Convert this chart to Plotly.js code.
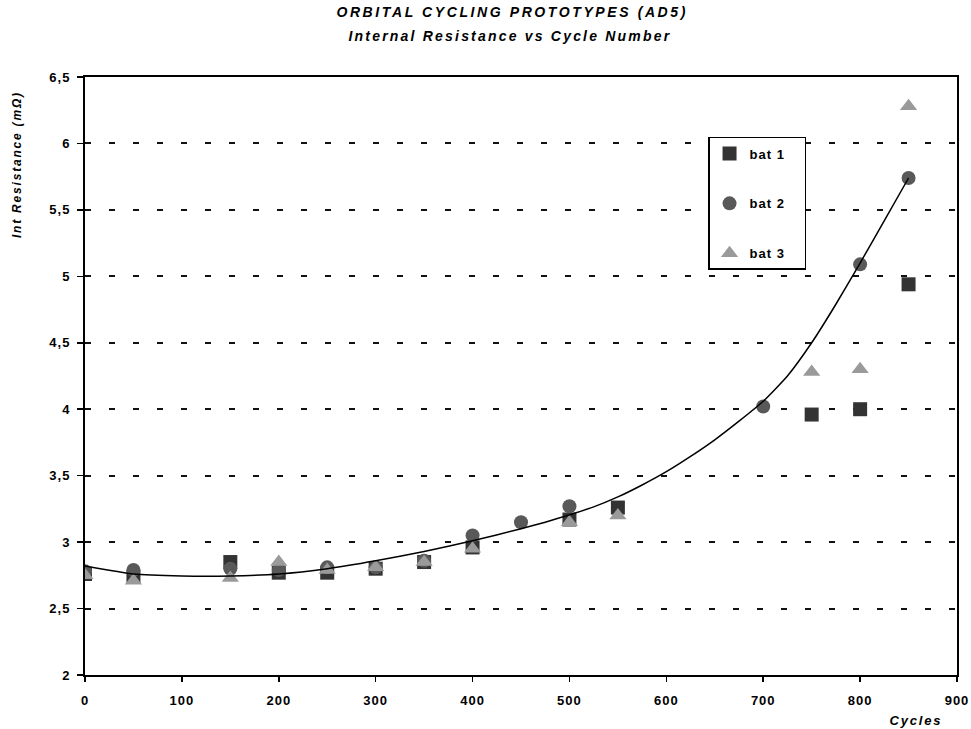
<!DOCTYPE html>
<html>
<head>
<meta charset="utf-8">
<script src="https://cdn.plot.ly/plotly-3.0.1.min.js"></script>
<style>
  html, body { margin: 0; padding: 0; background: #fff; }
  #chart { width: 971px; height: 729px; }
  .xtick text, .ytick text { letter-spacing: 1px; }
  .legendtext { letter-spacing: 1px; }
</style>
</head>
<body>
<div id="chart"></div>
<script>
// Internal resistance (mΩ) of three orbital cycling prototype cells vs cycle number
const bat1Cycles = [0, 50, 150, 200, 250, 300, 350, 400, 500, 550, 750, 800, 850];
const bat1Res    = [2.76, 2.74, 2.85, 2.77, 2.77, 2.80, 2.85, 2.96, 3.17, 3.26, 3.96, 4.00, 4.94];

const bat2Cycles = [0, 50, 150, 200, 250, 300, 350, 400, 450, 500, 700, 800, 850];
const bat2Res    = [2.78, 2.79, 2.80, 2.79, 2.81, 2.81, 2.86, 3.05, 3.15, 3.27, 4.02, 5.09, 5.74];

const bat3Cycles = [0, 50, 150, 200, 250, 300, 350, 400, 500, 550, 750, 800, 850];
const bat3Res    = [2.75, 2.71, 2.73, 2.85, 2.79, 2.81, 2.85, 2.95, 3.15, 3.20, 4.28, 4.30, 6.28];

// Trend curve through the bat 2 readings
const trendCycles = [0, 50, 100, 150, 200, 250, 300, 350, 400, 450, 475, 500, 525, 550, 575, 600, 625, 650, 675, 700, 725, 750, 775, 800, 825, 850];
const trendRes    = [2.82, 2.76, 2.745, 2.745, 2.76, 2.80, 2.86, 2.93, 3.01, 3.10, 3.15, 3.205, 3.265, 3.34, 3.43, 3.53, 3.645, 3.77, 3.91, 4.06, 4.25, 4.50, 4.79, 5.10, 5.42, 5.74];

const xTickVals = [0, 100, 200, 300, 400, 500, 600, 700, 800, 900];
const yTickVals = [2, 2.5, 3, 3.5, 4, 4.5, 5, 5.5, 6, 6.5];
const yTickText = ['2', '2,5', '3', '3,5', '4', '4,5', '5', '5,5', '6', '6,5'];

const FONT = 'Liberation Sans, Arial, sans-serif';
const PAD = '\u00a0\u00a0\u00a0'; // keeps the legend box a little wider than its labels

const traces = [
  {
    x: bat1Cycles, y: bat1Res, name: 'bat 1' + PAD, type: 'scatter', mode: 'markers',
    legendgroup: 'g1',
    marker: { symbol: 'square', size: 14, color: '#333333' }
  },
  {
    x: bat2Cycles, y: bat2Res, name: 'bat 2' + PAD, type: 'scatter', mode: 'markers',
    legendgroup: 'g2',
    marker: { symbol: 'circle', size: 14, color: '#595959' }
  },
  {
    x: bat3Cycles, y: bat3Res, name: 'bat 3' + PAD, type: 'scatter', mode: 'markers',
    legendgroup: 'g3',
    marker: { symbol: 'triangle-up', size: 15, color: '#9a9a9a' }
  },
  {
    x: trendCycles, y: trendRes, type: 'scatter', mode: 'lines', showlegend: false,
    line: { color: '#000', width: 1.5, shape: 'spline', smoothing: 0.5 },
    hoverinfo: 'skip'
  }
];

const axisCommon = {
  showline: true, linecolor: '#000', linewidth: 2, mirror: true,
  ticks: 'outside', tickcolor: '#000', tickwidth: 1.5,
  zeroline: false,
  tickfont: { family: FONT, size: 13, color: '#000', weight: 'bold' }
};

const layout = {
  width: 971, height: 729,
  margin: { l: 85, r: 14, t: 77, b: 54 },
  paper_bgcolor: '#fff', plot_bgcolor: '#fff',
  showlegend: true,
  legend: {
    x: 0.7145, y: 0.8997, xanchor: 'left', yanchor: 'top',
    bgcolor: '#fff', bordercolor: '#000', borderwidth: 1.5,
    traceorder: 'grouped', tracegroupgap: 30,
    font: { family: FONT, size: 13, color: '#000', weight: 'bold' }
  },
  xaxis: Object.assign({}, axisCommon, {
    range: [0, 900], tickvals: xTickVals, ticklen: 5,
    showgrid: false, ticklabelstandoff: 7
  }),
  yaxis: Object.assign({}, axisCommon, {
    range: [2, 6.5], tickvals: yTickVals, ticktext: yTickText, ticklen: 6,
    showgrid: true, gridcolor: '#111', gridwidth: 2, griddash: '6px,18px',
    ticklabelstandoff: 4
  }),
  annotations: [
    {
      text: 'ORBITAL CYCLING PROTOTYPES (AD5)', xref: 'paper', yref: 'paper',
      x: 0.4897, y: 1.1087, xanchor: 'center', yanchor: 'middle', showarrow: false,
      font: { family: FONT, size: 14, color: '#000', weight: 'bold', style: 'italic' }
    },
    {
      text: 'Internal Resistance vs Cycle Number', xref: 'paper', yref: 'paper',
      x: 0.4885, y: 1.0686, xanchor: 'center', yanchor: 'middle', showarrow: false,
      font: { family: FONT, size: 14, color: '#000', weight: 'bold', style: 'italic' }
    },
    {
      text: 'Int Resistance (mΩ)', xref: 'paper', yref: 'paper',
      x: -0.078, y: 0.8545, xanchor: 'center', yanchor: 'middle', showarrow: false,
      textangle: -90,
      font: { family: FONT, size: 12, color: '#000', weight: 'bold', style: 'italic' }
    },
    {
      text: 'Cycles', xref: 'paper', yref: 'paper',
      x: 0.953, y: -0.0753, xanchor: 'center', yanchor: 'middle', showarrow: false,
      font: { family: FONT, size: 13, color: '#000', weight: 'bold', style: 'italic' }
    }
  ]
};

Plotly.newPlot('chart', traces, layout, { staticPlot: true }).then(function () {
  // widen letter spacing on the titles
  const spacing = ['2.6px', '2.2px', '1.8px', '1.8px'];
  document.querySelectorAll('g.annotation').forEach(function (g, i) {
    const t = g.querySelector('text');
    if (t && spacing[i]) t.style.letterSpacing = spacing[i];
  });
});
</script>
</body>
</html>
